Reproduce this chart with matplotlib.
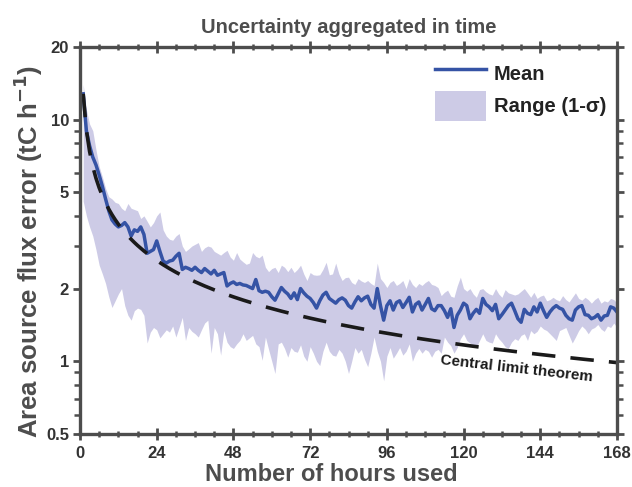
import matplotlib
matplotlib.use("Agg")
import matplotlib.pyplot as plt
import numpy as np
from matplotlib.lines import Line2D
from matplotlib.patches import Patch
from matplotlib.ticker import FixedLocator, FixedFormatter, NullFormatter

plt.rcParams['font.family'] = ['Liberation Sans', 'DejaVu Sans']

hours = list(range(1, 169))

mean_err = [
    12.8, 9.0, 7.8, 7.0, 6.5, 5.9, 5.3, 4.7, 4.2, 3.85,
    3.7, 3.6, 3.65, 3.75, 3.6, 3.3, 3.5, 3.45, 3.6, 3.35,
    2.8, 2.85, 2.9, 3.15, 2.85, 2.6, 2.55, 2.6, 2.62, 2.72,
    2.8, 2.4, 2.45, 2.42, 2.38, 2.45, 2.38, 2.33, 2.42, 2.36,
    2.3, 2.38, 2.27, 2.3, 2.33, 2.05, 2.1, 2.13, 2.08, 2.1,
    2.07, 2.06, 2.03, 2.0, 2.18, 1.96, 1.93, 1.95, 1.93, 1.85,
    1.79, 1.9, 2.02, 1.95, 1.9, 1.82, 1.92, 1.8, 2.0, 1.92,
    1.86, 1.82, 1.75, 1.66, 1.78, 1.88, 1.93, 1.82, 1.78, 1.74,
    1.8, 1.83, 1.79, 1.7, 1.66, 1.76, 1.85, 1.78, 1.83, 1.86,
    1.72, 1.66, 2.0, 1.7, 1.48, 1.7, 1.78, 1.63, 1.75, 1.78,
    1.67, 1.75, 1.84, 1.6, 1.72, 1.76, 1.63, 1.72, 1.82, 1.65,
    1.62, 1.7, 1.7, 1.62, 1.52, 1.65, 1.38, 1.55, 1.63, 1.74,
    1.7, 1.5, 1.58, 1.64, 1.58, 1.82, 1.72, 1.68, 1.62, 1.72,
    1.5, 1.56, 1.63, 1.7, 1.74, 1.62, 1.5, 1.45, 1.64, 1.58,
    1.56, 1.68, 1.6, 1.74, 1.62, 1.52, 1.6, 1.66, 1.7, 1.66,
    1.64, 1.55, 1.5, 1.48, 1.63, 1.68, 1.7, 1.56, 1.55, 1.5,
    1.52, 1.56, 1.48, 1.54, 1.55, 1.68, 1.66, 1.6,
]

upper_err = [
    14.0, 11.0, 9.6, 9.0, 7.5, 6.4, 5.8, 5.2, 4.8, 4.7,
    4.55, 4.5, 4.3, 4.2, 4.5, 4.3, 4.25, 4.2, 3.9, 4.0,
    3.8, 3.6, 3.75, 4.0, 4.15, 3.5, 3.3, 3.2, 3.17, 3.3,
    3.38, 3.0, 2.85, 2.92, 3.0, 3.05, 3.1, 2.85, 2.95, 3.0,
    2.97, 2.85, 2.8, 2.75, 2.82, 2.88, 2.7, 2.62, 2.82, 2.65,
    2.58, 2.52, 2.55, 2.82, 2.72, 2.68, 2.75, 2.45, 2.35, 2.42,
    2.45, 2.33, 2.5, 2.45, 2.35, 2.45, 2.33, 2.4, 2.5, 2.3,
    2.16, 2.33, 2.28, 2.27, 2.28, 2.4, 2.57, 2.28, 2.3, 2.55,
    2.3, 2.16, 2.22, 2.23, 2.12, 2.08, 2.2, 2.15, 2.12, 2.16,
    2.1, 2.06, 2.55, 2.2, 2.12, 2.02, 2.12, 2.16, 2.06, 2.1,
    2.16, 2.0, 2.2, 2.08, 2.02, 2.1, 2.06, 2.12, 2.16, 2.08,
    2.06, 2.02, 1.87, 1.93, 1.97, 1.86, 1.84, 2.05, 2.23, 2.0,
    1.95, 2.0, 1.9, 1.84, 1.98, 2.0, 1.94, 1.9, 1.88, 2.0,
    1.9, 1.84, 1.98, 1.92, 1.9, 1.88, 1.9, 1.95, 2.0, 1.92,
    1.84, 1.93, 1.82, 1.86, 1.88, 1.78, 1.8, 1.84, 1.8, 1.78,
    1.87, 1.8, 1.76, 1.84, 1.92, 1.82, 1.79, 1.84, 1.8, 1.74,
    1.8, 1.84, 1.74, 1.78, 1.76, 1.82, 1.8, 1.74,
]

lower_err = [
    4.6, 4.0, 3.6, 3.3, 2.9, 2.5, 2.3, 2.1, 1.85, 1.67,
    1.78, 1.9, 2.0, 1.7, 1.55, 1.48, 1.62, 1.66, 1.64, 1.55,
    1.19, 1.32, 1.38, 1.35, 1.25, 1.3, 1.35, 1.32, 1.4, 1.26,
    1.38, 1.52, 1.22, 1.38, 1.33, 1.3, 1.26, 1.35, 1.44, 1.48,
    1.08, 1.38, 1.3, 1.06, 1.34, 1.2, 1.15, 1.13, 1.18, 1.22,
    1.3, 1.22, 1.25, 1.28, 1.18, 1.15, 1.01, 1.26, 1.12, 1.0,
    0.89, 1.18, 1.2, 1.13, 1.04, 1.14, 1.1, 1.09, 1.17, 1.05,
    1.0, 1.15, 1.08, 1.0, 0.96, 1.1, 1.2, 1.1, 1.06, 1.05,
    1.12, 1.08, 1.0, 0.89, 1.0, 1.14, 1.08, 1.12, 1.02, 0.95,
    1.08, 1.26, 1.1, 1.0, 0.83, 1.05, 1.14, 1.03, 1.08, 1.14,
    1.06, 1.1, 1.18, 1.0, 1.08, 1.13, 1.08, 1.12, 1.1, 1.04,
    1.1, 1.12, 1.08, 1.26, 1.2, 1.16, 1.08, 1.14, 1.24, 1.3,
    1.22, 1.19, 1.16, 1.14, 1.22, 1.3, 1.22, 1.2, 1.19, 1.3,
    1.24, 1.2, 1.15, 1.13, 1.2, 1.24, 1.22, 1.28, 1.3, 1.22,
    1.34, 1.3, 1.33, 1.4, 1.36, 1.34, 1.3, 1.26, 1.22, 1.34,
    1.36, 1.38, 1.28, 1.19, 1.26, 1.34, 1.4, 1.36, 1.3, 1.36,
    1.38, 1.42, 1.36, 1.33, 1.4, 1.38, 1.44, 1.38,
]

x_ticks = [0, 24, 48, 72, 96, 120, 144, 168]
y_ticks = [0.5, 1, 2, 5, 10, 20]
y_tick_labels = ['0.5', '1', '2', '5', '10', '20']

# central limit theorem reference: first-hour error scaled by 1/sqrt(n)
h = np.array(hours, dtype=float)
clt = mean_err[0] / np.sqrt(h)

TXT = '#4d4d4d'
fig = plt.figure(figsize=(6.32, 4.87), dpi=100)
ax = fig.add_axes([80/632, 53/487, 537/632, 387/487])

ax.fill_between(hours, lower_err, upper_err, color='#cdcbe6', lw=0)
ax.plot(hours, mean_err, color='#3553a5', lw=2.5)
ax.plot(h, clt, color='#1a1a1a', lw=2.6, dashes=(6.5, 4.2))

ax.set_yscale('log')
ax.set_xlim(0, 168)
ax.set_ylim(0.5, 20)

ax.yaxis.set_major_locator(FixedLocator(y_ticks))
ax.yaxis.set_major_formatter(FixedFormatter(y_tick_labels))
ax.yaxis.set_minor_locator(FixedLocator([0.6, 0.7, 0.8, 0.9, 3, 4, 6, 7, 8, 9]))
ax.yaxis.set_minor_formatter(NullFormatter())
ax.xaxis.set_major_locator(FixedLocator(x_ticks))
ax.xaxis.set_minor_locator(FixedLocator(list(range(0, 169, 6))))

for s in ax.spines.values():
    s.set_linewidth(2.4)
    s.set_color(TXT)

ax.tick_params(axis='x', which='major', direction='inout', length=9, width=2, colors=TXT,
               top=True, bottom=True, labelsize=12, pad=4)
ax.tick_params(axis='x', which='minor', direction='inout', length=5, width=1.8, colors=TXT,
               top=True, bottom=True)
ax.tick_params(axis='y', which='major', direction='out', length=5, width=2, colors=TXT,
               left=True, right=True, labelsize=12, pad=3)
ax.tick_params(axis='y', which='minor', direction='out', length=4, width=1.8, colors=TXT,
               left=True, right=True)
for lab in ax.get_xticklabels() + ax.get_yticklabels():
    lab.set_fontweight('bold')
    lab.set_color('#333333')

ax.set_title('Uncertainty aggregated in time', fontsize=14.5, fontweight='bold', color=TXT,
             pad=10)
ax.set_xlabel('Number of hours used', fontsize=17, fontweight='bold', color=TXT)
ax.xaxis.set_label_coords(0.468, -0.075)
ax.set_ylabel('Area source flux error (tC h$^{\\mathbf{-1}}$)', fontsize=18.5, fontweight='bold',
              color=TXT)
ax.yaxis.set_label_coords(-0.066, 0.47)

ax.text(136.5, 0.93, 'Central limit theorem', rotation=-6.5, fontsize=11, fontweight='bold',
        color='#1a1a1a', ha='center', va='center', rotation_mode='anchor')

handles = [Line2D([0], [0], color='#3553a5', lw=2.5),
           Patch(facecolor='#cdcbe6', edgecolor='none')]
leg = ax.legend(handles, ['Mean', 'Range (1-σ)'], loc='upper right', frameon=False,
                prop={'weight': 'bold', 'size': 14.5}, handlelength=2.55, handleheight=1.95,
                handletextpad=0.35, labelspacing=0.1, borderaxespad=0.15)
for t in leg.get_texts():
    t.set_color('#222222')

fig.savefig('out.png', dpi=100)
